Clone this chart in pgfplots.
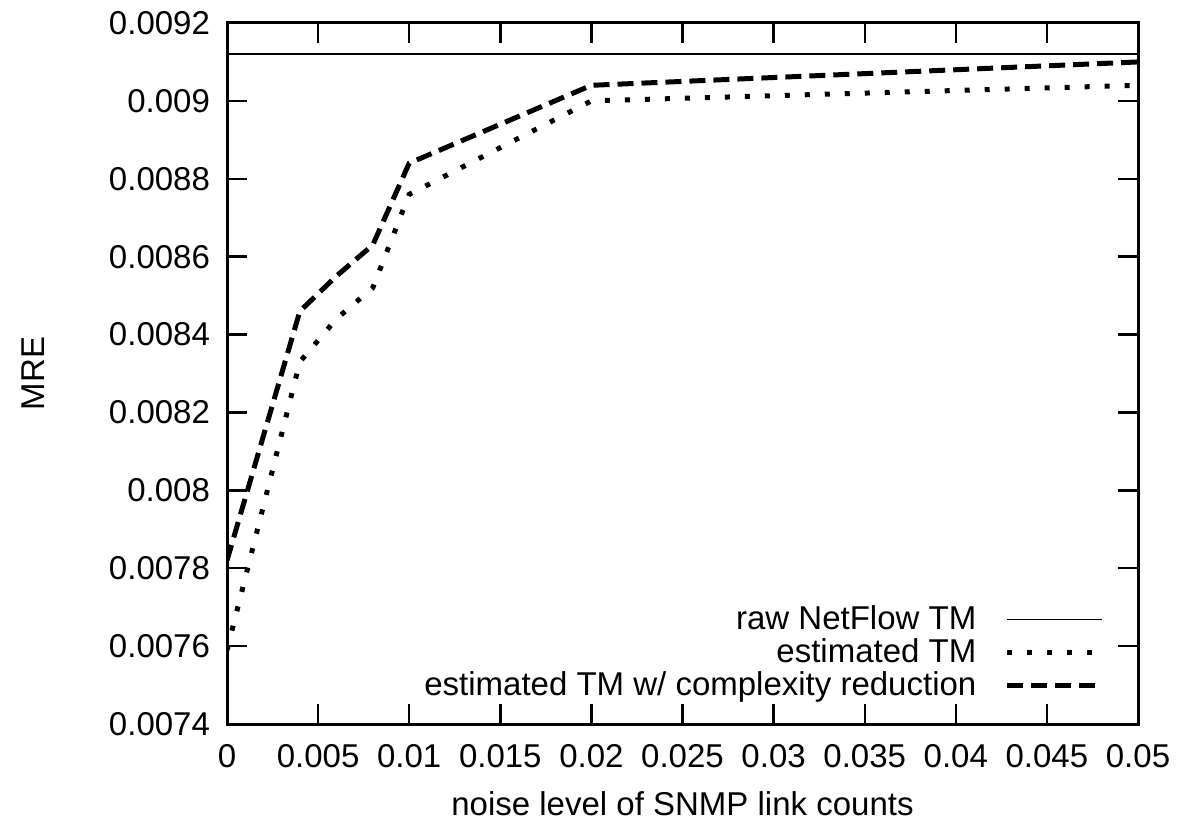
\documentclass[border=0pt]{standalone}
\usepackage{fontspec}
\setmainfont{Liberation Sans}
\usepackage{pgfplots}
\pgfplotsset{compat=1.18}
\begin{document}
\begin{tikzpicture}
\useasboundingbox (0,0) rectangle (591pt,412.5pt);
\begin{axis}[
  at={(113.5pt,50.5pt)}, anchor=south west,
  scale only axis, width=455.5pt, height=350.5pt,
  xmin=0, xmax=0.05, ymin=0.0074, ymax=0.0092,
  font=\fontsize{16.5}{20}\selectfont,
  /pgf/number format/assume math mode=true,
  xtick={0,0.005,0.01,0.015,0.02,0.025,0.03,0.035,0.04,0.045,0.05},
  xticklabels={0,0.005,0.01,0.015,0.02,0.025,0.03,0.035,0.04,0.045,0.05},
  ytick={0.0074,0.0076,0.0078,0.008,0.0082,0.0084,0.0086,0.0088,0.009,0.0092},
  yticklabels={0.0074,0.0076,0.0078,0.008,0.0082,0.0084,0.0086,0.0088,0.009,0.0092},
  scaled x ticks=false, scaled y ticks=false,
  tick align=inside, major tick length=10pt,
  every tick/.style={line width=1.2pt, black},
  axis line style={line width=1.5pt},
  xticklabel style={yshift=-6.5pt},
  yticklabel style={xshift=-5pt},
  xlabel={noise level of SNMP link counts},
  ylabel={MRE},
  every axis x label/.style={at={(axis description cs:0.5,-0.113)}, anchor=center},
  every axis y label/.style={at={(axis description cs:-0.213,0.5)}, rotate=90, anchor=center},
  legend plot pos=right,
  legend cell align=right,
  legend style={draw=none, fill=none, inner sep=0pt, at={(axis description cs:0.9635,0.03)}, anchor=south east, row sep=-1pt, font=\fontsize{16.5}{20}\selectfont},
  legend image code/.code={\path (0pt,0pt); \draw[#1] (12pt,0pt) -- (59.5pt,0pt);},
]
\addplot[black, line width=0.75pt] coordinates {(0,0.00912) (0.05,0.00912)};
\addlegendentry{raw NetFlow TM}
\addplot[black, line width=2.5pt, dash pattern=on 2.5pt off 7.5pt] coordinates {
(0,0.00759) (0.004,0.00833) (0.006,0.00844) (0.008,0.00852) (0.01,0.00876) (0.02,0.00900) (0.05,0.00904)};
\addlegendentry{estimated TM}
\addplot[black, line width=2.5pt, dash pattern=on 8pt off 4pt] coordinates {
(0,0.00782) (0.004,0.00846) (0.006,0.00855) (0.008,0.00863) (0.01,0.00884) (0.02,0.00904) (0.05,0.00910)};
\addlegendentry{estimated TM w/ complexity reduction}
\end{axis}
\end{tikzpicture}
\end{document}
